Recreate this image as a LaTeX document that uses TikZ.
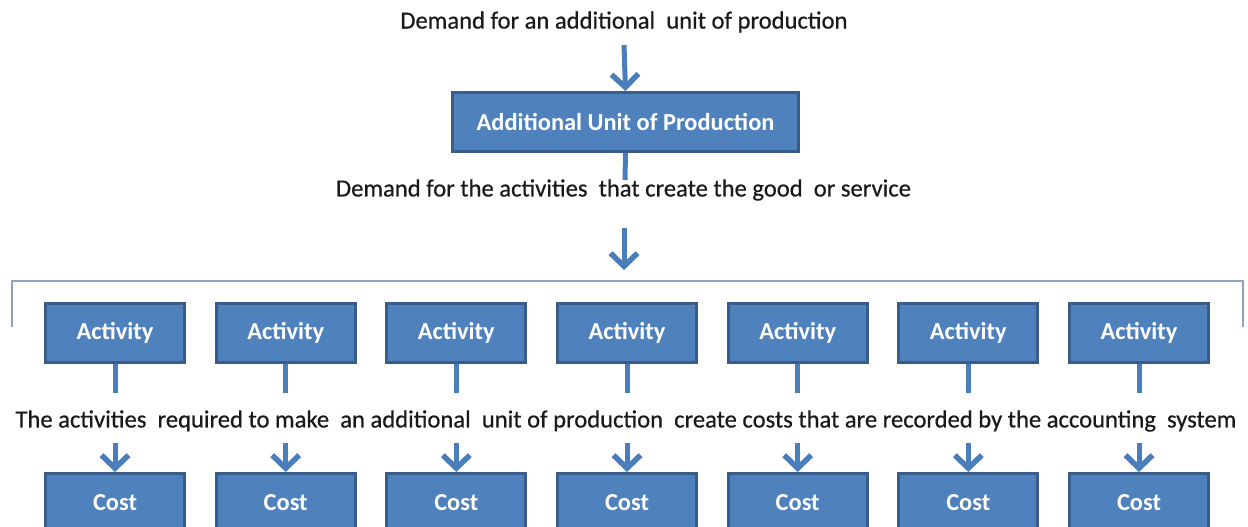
\documentclass[tikz,border=0pt]{standalone}
\usepackage{fontspec}
\setmainfont{Carlito}
\newfontfamily\lblfont{Carlito}[BoldFont=Carlito, BoldFeatures={FakeBold=0.6}]
\usetikzlibrary{arrows.meta}
\definecolor{boxfill}{HTML}{4F81BD}
\definecolor{boxline}{HTML}{385D8A}
\definecolor{arr}{HTML}{4A7EBB}
\definecolor{brk}{HTML}{8EA4BC}
\definecolor{ink}{HTML}{1A1A1A}
\begin{document}
\begin{tikzpicture}[x=1pt,y=-1pt,
  blk/.style={draw=boxline, line width=3pt, fill=boxfill, text=white,
    font=\fontsize{24.4}{28}\selectfont\bfseries, minimum height=59pt, inner sep=0pt},
  act/.style={blk, minimum width=139pt},
  lbl/.style={font=\lblfont\bfseries\fontsize{24.6}{29}\selectfont, text=ink, inner sep=0pt},
  flow/.style={draw=arr, line width=5pt, -{Straight Barb[length=13pt,width=27pt,line width=5.5pt]}},
  stem/.style={draw=arr, line width=5pt},
  bracket/.style={draw=brk, line width=2pt}]
\useasboundingbox (0,0) rectangle (1248,527);
\clip (0,0) rectangle (1248,527);

\node[lbl] (t1) at (624,22) {Demand for an additional\ \ unit of production};
\node[blk, minimum width=346pt] (u) at (625.5,122) {Additional Unit of Production};
\node[lbl] (t2) at (623.5,190) {Demand for the activities\ \ that create the good\ \ or service};
\node[lbl] (t3) at (626,421) {The activities\ \ required to make\ \ an additional\ \ unit of production\ \ create costs that are recorded by the accounting\ \ system};

\coordinate (a1s) at (624,45);
\draw[flow] (a1s) -- (u.north);
\coordinate (s1e) at (625,180);
\draw[stem] (u.south) -- (s1e);
\coordinate (a2s) at (624,228);
\coordinate (a2e) at (624,270);
\draw[flow] (a2s) -- (a2e);

\coordinate (bl) at (12,327);
\coordinate (br) at (1243,327);
\draw[bracket] (bl) -- ++(0,-46) -| (br);

\foreach \i/\x in {1/115,2/285.7,3/456.3,4/627,5/797.7,6/968.3,7/1139}{
  \node[act] (a\i) at (\x,333) {Activity};
  \node[act] (c\i) at (\x,503) {Cost};
  \coordinate (se\i) at (\x,393);
  \coordinate (fs\i) at (\x,443);
  \draw[stem] (a\i.south) -- (se\i);
  \draw[flow] (fs\i) -- (c\i.north);
}
\end{tikzpicture}
\end{document}
